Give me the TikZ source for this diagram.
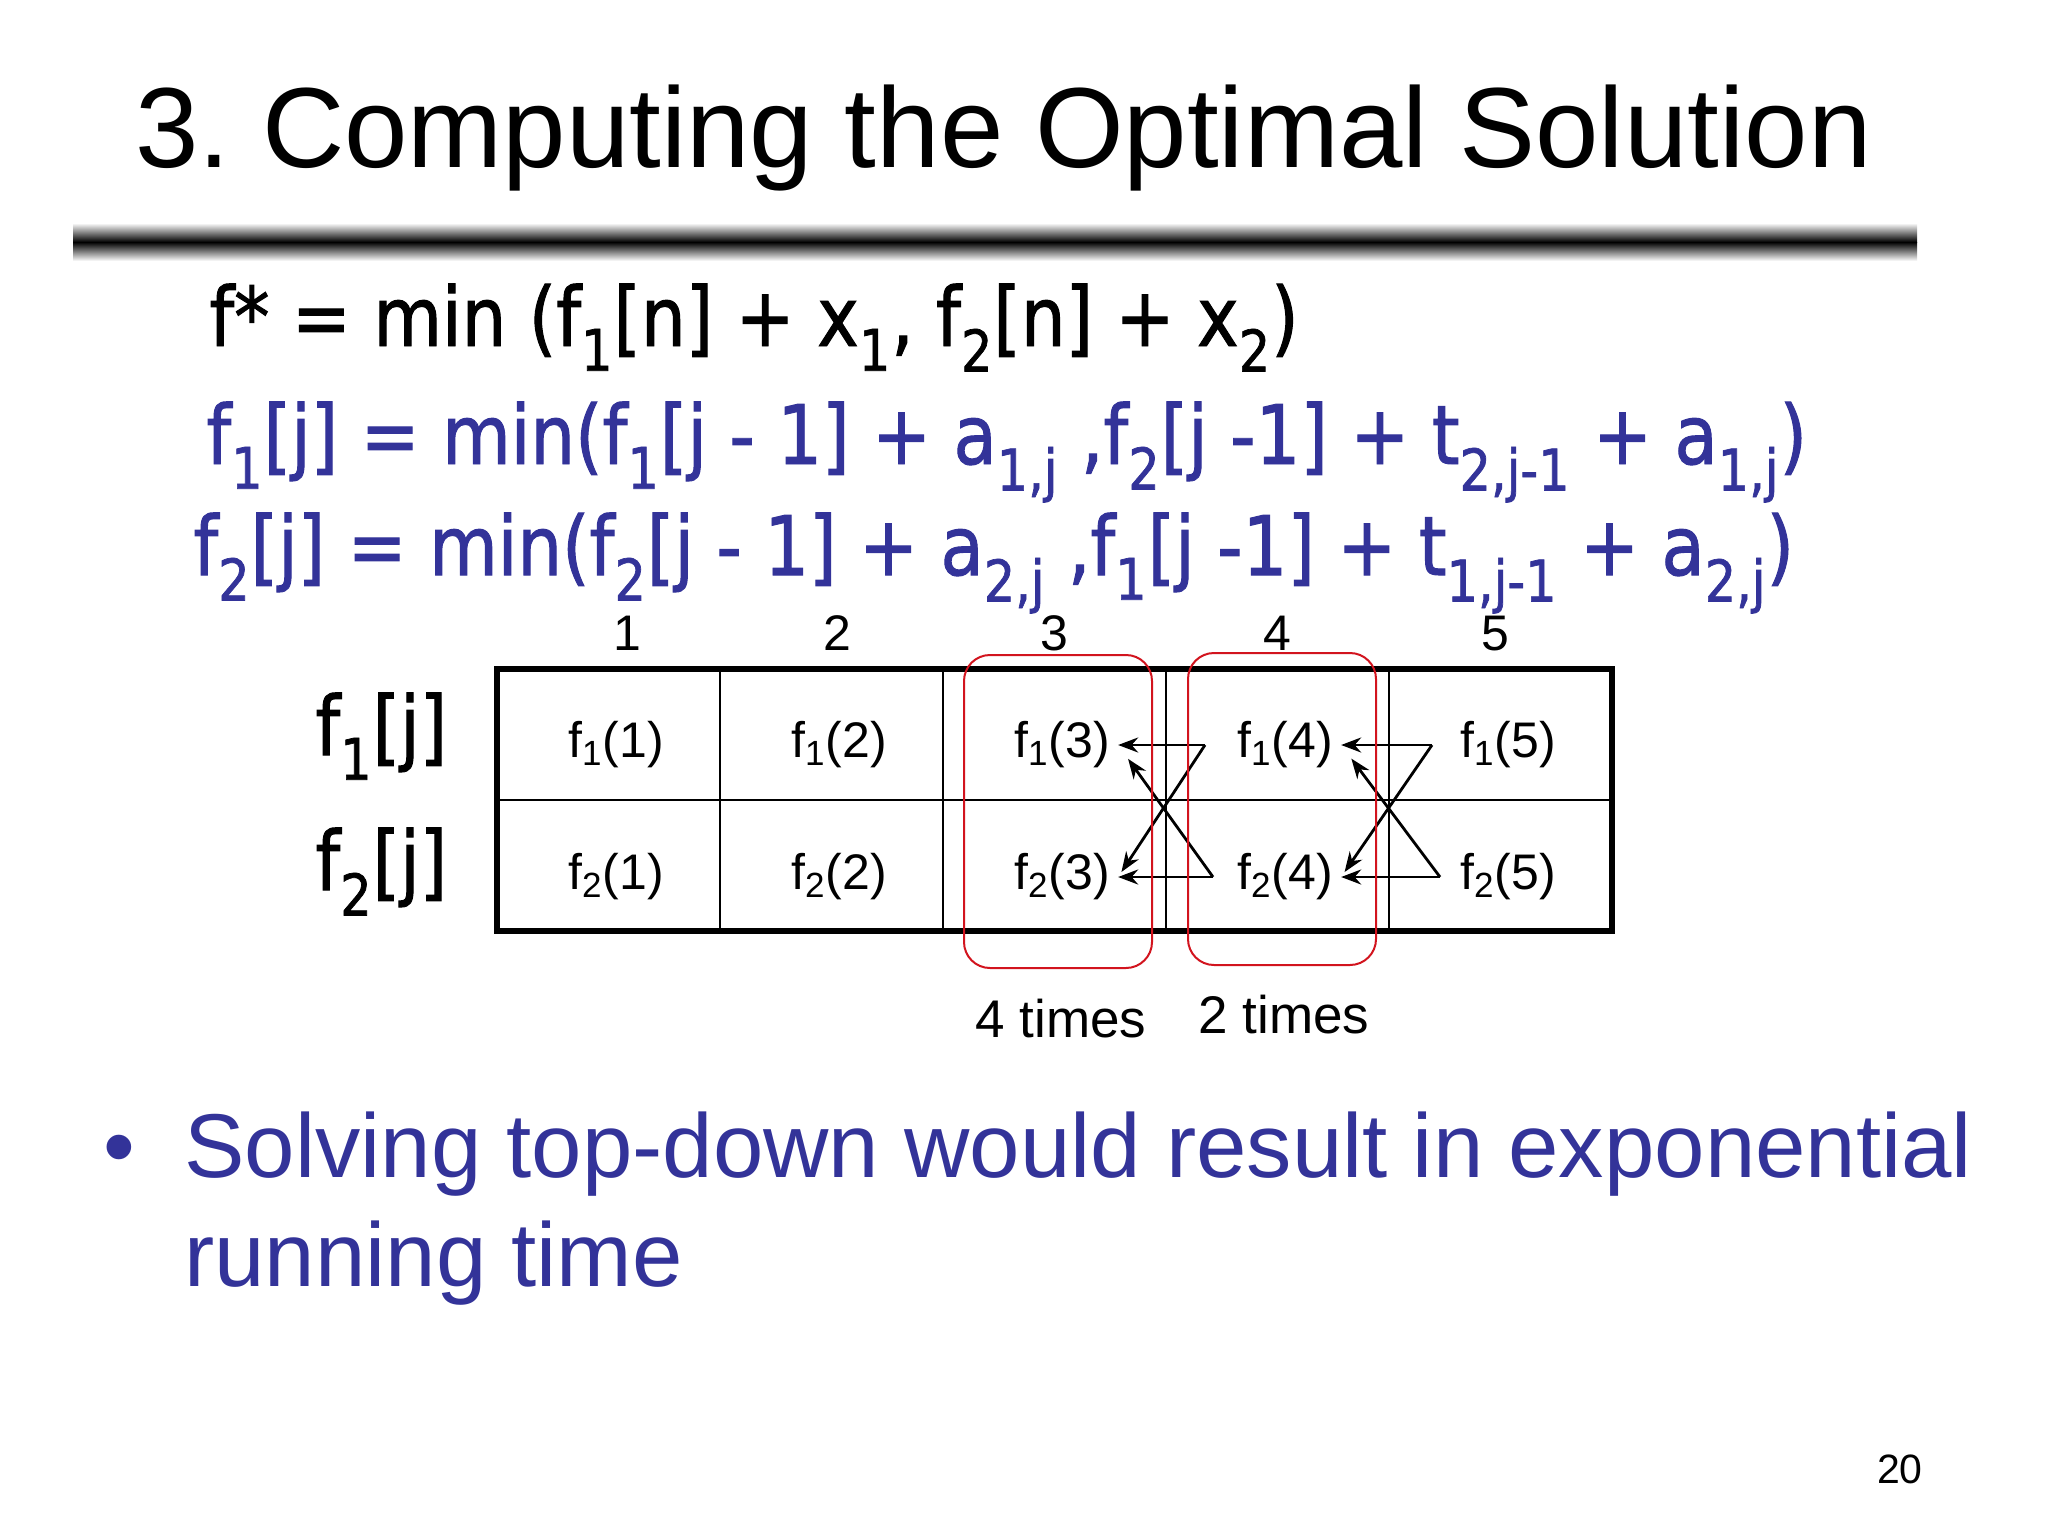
\documentclass[tikz,border=0pt]{standalone}
\usepackage{fontspec}
\setmainfont{Liberation Sans}
\newfontfamily\comicfont[FakeStretch=0.86, FakeBold=1.2]{DejaVu Sans}
\usetikzlibrary{arrows.meta}
\definecolor{slideblue}{RGB}{51,51,153}
\definecolor{boxred}{RGB}{210,20,30}

\begin{document}
\begin{tikzpicture}[x=0.5pt,y=-0.5pt,
	>={Stealth[length=10pt,width=7.5pt]},
	every node/.style={inner sep=0pt},
	cell/.style={inner xsep=4pt, font=\fontsize{25}{30}\selectfont},
	colnum/.style={anchor=base, font=\fontsize{25}{30}\selectfont},
	eqline/.style={anchor=base west, font=\comicfont\fontsize{41}{48}\selectfont},
	rowlabel/.style={anchor=base west, font=\comicfont\fontsize{41}{48}\selectfont},
	bullettext/.style={anchor=base west, text=slideblue, font=\fontsize{45.3}{54}\selectfont},
	redbox/.style={draw=boxred, line width=1pt, rounded corners=13pt},
	link/.style={->, line width=1.4pt}]
	\useasboundingbox (0,0) rectangle (2048,1536);
	% Title %
	\node (title) [anchor=base west, font=\fontsize{57}{68}\selectfont] at (135,167) {3.\ Computing the Optimal Solution};
	% Rule %
	\shade [top color=white, bottom color=black] (73,223) rectangle (1917,242);
	\shade [top color=black, bottom color=white] (73,242) rectangle (1917,261);
	% Recurrences %
	\node (fstar) [eqline] at (209,346) {f* = min (f\textsubscript{1}[n] + x\textsubscript{1}, f\textsubscript{2}[n] + x\textsubscript{2})};
	\node (eqone) [eqline, text=slideblue] at (206,464) {f\textsubscript{1}[j] = min(f\textsubscript{1}[j - 1] + a\textsubscript{1,j} ,f\textsubscript{2}[j -1] + t\textsubscript{2,j-1} + a\textsubscript{1,j})};
	\node (eqtwo) [eqline, text=slideblue] at (193,575) {f\textsubscript{2}[j] = min(f\textsubscript{2}[j - 1] + a\textsubscript{2,j} ,f\textsubscript{1}[j -1] + t\textsubscript{1,j-1} + a\textsubscript{2,j})};
	% Column Numbers %
	\node (col1) [colnum] at (627,650) {1};
	\node (col2) [colnum] at (837,650) {2};
	\node (col3) [colnum] at (1054,650) {3};
	\node (col4) [colnum] at (1277,650) {4};
	\node (col5) [colnum] at (1495,650) {5};
	% Row Labels %
	\node (rowone) [rowlabel] at (315,755) {f\textsubscript{1}[j]};
	\node (rowtwo) [rowlabel] at (315,890) {f\textsubscript{2}[j]};
	% Table %
	\foreach \x in {720,943,1166,1389}
		{\draw [line width=1.3pt] (\x,669) -- (\x,931);}
	\draw [line width=1.3pt] (497,800) -- (1612,800);
	\draw [line width=3.2pt] (497,669) rectangle (1612,931);
	\foreach \c in {1,...,5}
		{\node (f1\c) [cell] at ({616+223*(\c-1)},745) {f\textsubscript{1}(\c)};
		 \node (f2\c) [cell] at ({616+223*(\c-1)},877) {f\textsubscript{2}(\c)};}
	% Dependencies %
	\coordinate (s14) at (1205,745);
	\coordinate (s24) at (1213,877);
	\coordinate (s15) at (1432,745);
	\coordinate (s25) at (1440,877);
	\draw [link] (s14) -- (f13.east);
	\draw [link, shorten >=3pt] (s14) -- (f23.east);
	\draw [link] (s24) -- (f23.east);
	\draw [link, shorten >=8.5pt] (s24) -- (f13.east);
	\draw [link] (s15) -- (f14.east);
	\draw [link, shorten >=3pt] (s15) -- (f24.east);
	\draw [link] (s25) -- (f24.east);
	\draw [link, shorten >=8.5pt] (s25) -- (f14.east);
	% Repeated Columns %
	\draw [redbox] (964,655) rectangle (1152,968);
	\draw [redbox] (1188,653) rectangle (1376,965);
	\node (timesthree) [anchor=base west, font=\fontsize{26.5}{32}\selectfont] at (975,1037) {4 times};
	\node (timesfour) [anchor=base west, font=\fontsize{26.5}{32}\selectfont] at (1198,1033) {2 times};
	% Bullet %
	\node (bullet) [bullettext] at (103,1177) {•};
	\node (solving) [bullettext] at (184,1177) {Solving top-down would result in exponential};
	\node (running) [bullettext] at (184,1286) {running time};
	% Page Number %
	\node (pagenum) [anchor=base east, font=\fontsize{20.5}{25}\selectfont] at (1923,1483) {20};
\end{tikzpicture}
\end{document}
